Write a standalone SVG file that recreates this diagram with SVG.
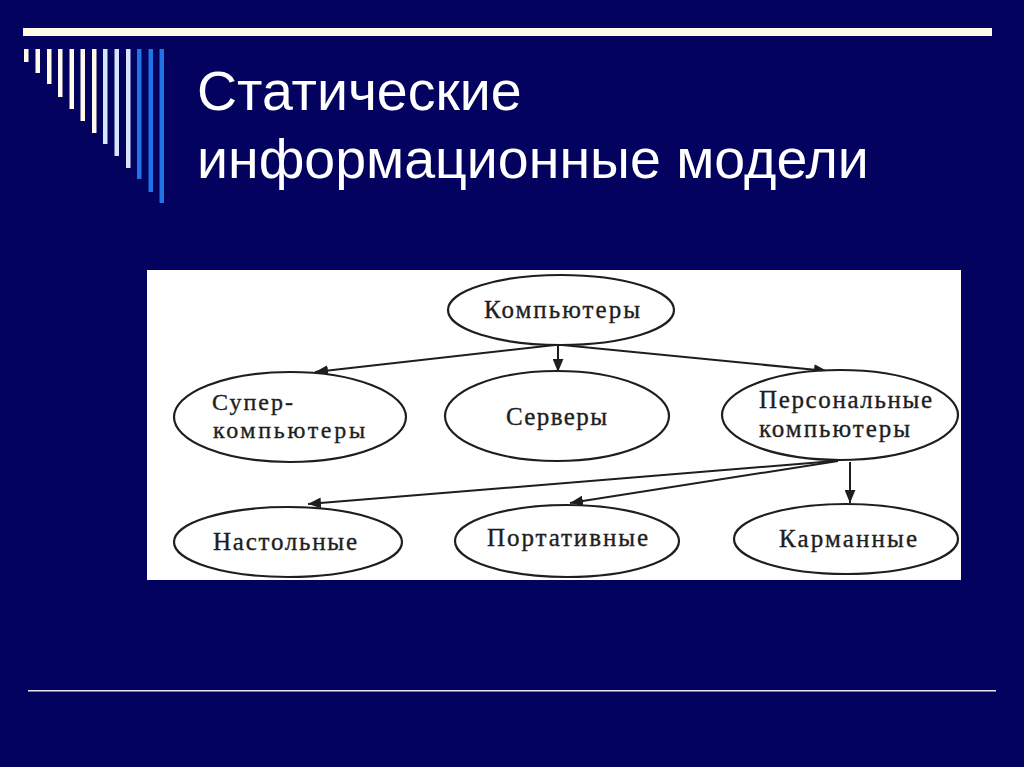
<svg xmlns="http://www.w3.org/2000/svg" width="1024" height="767" viewBox="0 0 1024 767">
<defs>
<style>
.bg{fill:#03035f}
.cream{fill:#fffbe8}
.lb{fill:#d6e6ff}
.bl{fill:#1f74e6}
.title{font-family:"Liberation Sans",Arial,sans-serif;font-size:55.5px;fill:#ffffff}
.node ellipse{fill:#ffffff;stroke:#1e1e1e;stroke-width:2.2}
.node text{font-family:"Liberation Serif","Times New Roman",serif;font-size:25px;fill:#1e1e1e;stroke:#1e1e1e;stroke-width:0.35}
.edge{stroke:#1e1e1e;stroke-width:2;fill:none;marker-end:url(#arr)}
</style>
<marker id="arr" viewBox="0 0 12 10" refX="12" refY="5" markerWidth="13" markerHeight="11" markerUnits="userSpaceOnUse" orient="auto">
<path d="M0,0 L12,5 L0,10 z" fill="#1e1e1e"/>
</marker>
</defs>
<rect class="bg" x="0" y="0" width="1024" height="767"/>
<g id="decor">
<rect class="cream" x="23" y="28" width="969" height="8"/>
<rect class="cream" x="24" y="49" width="4.5" height="13"/>
<rect class="cream" x="35.5" y="49" width="4.5" height="24"/>
<rect class="cream" x="47" y="49" width="4.5" height="35"/>
<rect class="cream" x="58" y="49" width="4.5" height="48"/>
<rect class="cream" x="69.5" y="49" width="4.5" height="60"/>
<rect class="cream" x="80.5" y="49" width="4.5" height="72"/>
<rect class="cream" x="92" y="49" width="4.5" height="84"/>
<rect class="lb" x="103" y="49" width="4.5" height="95"/>
<rect class="lb" x="114.5" y="49" width="4.5" height="107"/>
<rect class="lb" x="126" y="49" width="4.5" height="119"/>
<rect class="bl" x="137" y="49" width="4.5" height="130"/>
<rect class="bl" x="148.5" y="49" width="4.5" height="143"/>
<rect class="bl" x="159.5" y="49" width="4.5" height="154"/>
<rect x="28" y="690" width="968" height="1.5" fill="#e8e8f0"/>
</g>
<text class="title" x="197" y="110">Статические</text>
<text class="title" x="197" y="178">информационные модели</text>
<rect x="147" y="270" width="814" height="310" fill="#ffffff"/>
<g id="connectors">
<line class="edge" x1="555" y1="345" x2="315" y2="372"/>
<line class="edge" x1="558" y1="345" x2="558" y2="372"/>
<line class="edge" x1="562" y1="345" x2="827" y2="371"/>
<line class="edge" x1="835" y1="461" x2="308" y2="504"/>
<line class="edge" x1="838" y1="461" x2="570" y2="503"/>
<line class="edge" x1="850" y1="462" x2="850" y2="503"/>
</g>
<g id="n-computers" class="node">
<ellipse cx="561" cy="310" rx="113" ry="35"/>
<text x="484" y="318" textLength="156">Компьютеры</text>
</g>
<g id="n-super" class="node">
<ellipse cx="290" cy="417" rx="116" ry="45"/>
<text x="212" y="410" textLength="81" style="font-size:24px">Супер-</text>
<text x="213" y="438" textLength="152" style="font-size:24px">компьютеры</text>
</g>
<g id="n-servers" class="node">
<ellipse cx="557" cy="416" rx="112" ry="45"/>
<text x="506" y="425" textLength="101">Серверы</text>
</g>
<g id="n-personal" class="node">
<ellipse cx="840" cy="415" rx="118" ry="45"/>
<text x="759" y="408" textLength="173">Персональные</text>
<text x="759" y="437" textLength="151">компьютеры</text>
</g>
<g id="n-desktop" class="node">
<ellipse cx="288" cy="542" rx="114" ry="35"/>
<text x="213" y="550" textLength="144">Настольные</text>
</g>
<g id="n-portable" class="node">
<ellipse cx="567" cy="541" rx="112" ry="36"/>
<text x="487" y="546" textLength="161">Портативные</text>
</g>
<g id="n-pocket" class="node">
<ellipse cx="846" cy="539" rx="112" ry="35"/>
<text x="779" y="547" textLength="138">Карманные</text>
</g>
</svg>
